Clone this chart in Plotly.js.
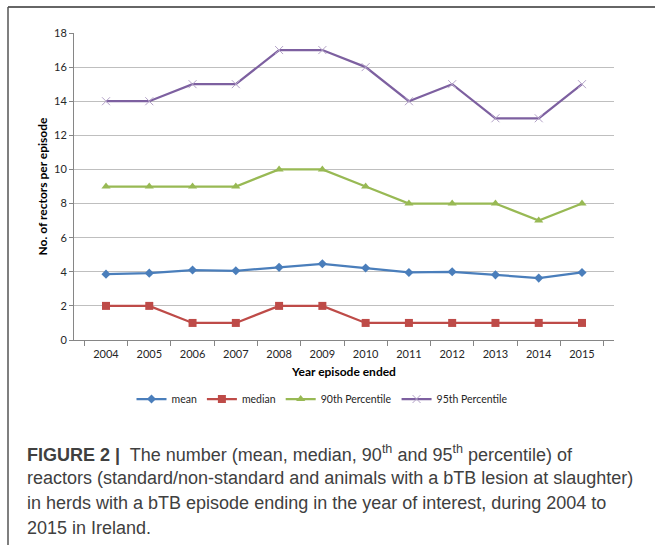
<!DOCTYPE html>
<html>
<head>
<meta charset="utf-8">
<script src="https://cdn.plot.ly/plotly-3.0.1.min.js"></script>
<style>html,body{margin:0;padding:0;background:#fff;}#chart{width:655px;height:548px;}</style>
</head>
<body>
<div id="chart"></div>
<script>
var years = ["2004","2005","2006","2007","2008","2009","2010","2011","2012","2013","2014","2015"];
var meanVals = [3.86, 3.92, 4.10, 4.06, 4.26, 4.47, 4.22, 3.96, 4.00, 3.82, 3.63, 3.96];
var medianVals = [2, 2, 1, 1, 2, 2, 1, 1, 1, 1, 1, 1];
var p90Vals = [9, 9, 9, 9, 10, 10, 9, 8, 8, 8, 7, 8];
var p95Vals = [14, 14, 15, 15, 17, 17, 16, 14, 15, 13, 13, 15];
var seriesNames = ["mean", "median", "90th Percentile", "95th Percentile"];
var captionLines = [
  "<b>FIGURE 2 |</b>  The number (mean, median, 90<sup>th</sup> and 95<sup>th</sup> percentile) of",
  "reactors (standard/non-standard and animals with a bTB lesion at slaughter)",
  "in herds with a bTB episode ending in the year of interest, during 2004 to",
  "2015 in Ireland."
];

var W = 655, H = 548;
var L = 74, R = 614, T = 33, B = 340;
function px(x){ return (x - L) / (R - L); }
function py(y){ return (B - y) / (B - T); }

var traces = [
  {x: years, y: meanVals, name: seriesNames[0], mode: "lines+markers",
   line: {color: "#4A7EBB", width: 2.25}, marker: {symbol: "diamond", size: 7, color: "#4A7EBB"}},
  {x: years, y: medianVals, name: seriesNames[1], mode: "lines+markers",
   line: {color: "#BE4B48", width: 2.25}, marker: {symbol: "square", size: 8, color: "#BE4B48"}},
  {x: years, y: p90Vals, name: seriesNames[2], mode: "lines+markers",
   line: {color: "#98B954", width: 2.25}, marker: {symbol: "triangle-up", size: 8, color: "#98B954"}},
  {x: years, y: p95Vals, name: seriesNames[3], mode: "lines+markers",
   line: {color: "#7D60A0", width: 2.25}, marker: {symbol: "x-thin-open", size: 8, color: "#B3A2C7", line: {color: "#B3A2C7", width: 1}}}
];

var capY = [453, 478, 503, 528];
var annotations = captionLines.map(function(t, i){
  return {text: t, xref: "paper", yref: "paper", x: px(25), y: py(capY[i]),
    xanchor: "left", yanchor: "middle", showarrow: false, align: "left",
    font: {family: "Liberation Sans, Arial, sans-serif", size: 18, color: "#404040"}};
});

var layout = {
  width: W, height: H,
  margin: {l: L, r: W - R, t: T, b: H - B, pad: 0},
  paper_bgcolor: "#ffffff", plot_bgcolor: "#ffffff",
  font: {family: "Liberation Sans Narrow, Lato, Open Sans, sans-serif", size: 11, color: "#262626"},
  showlegend: true,
  legend: {orientation: "h", x: px(322), xanchor: "center", y: py(399), yanchor: "middle",
           font: {size: 10.5, color: "#262626"}, itemwidth: 30, tracegroupgap: 0},
  xaxis: {type: "category", showgrid: false, showline: true, linecolor: "#868686", linewidth: 1,
          ticks: "outside", ticklen: 5, tickcolor: "#868686", tickson: "boundaries",
          ticklabelstandoff: 4, tickfont: {size: 11, family: "Lato, sans-serif"}, fixedrange: true,
          title: {text: "<b>Year episode ended</b>", font: {size: 12, color: "#000", family: "Lato, sans-serif"}, standoff: 8}},
  yaxis: {range: [0, 18], dtick: 2, showgrid: true, gridcolor: "#BFBFBF", gridwidth: 1,
          showline: true, linecolor: "#868686", linewidth: 1, zeroline: false,
          ticks: "outside", ticklen: 4, tickcolor: "#868686", tickfont: {size: 11, family: "Lato, sans-serif"},
          title: {text: "<b>No. of rectors per episode</b>", font: {size: 12, color: "#000", family: "Lato, sans-serif"}, standoff: 3}},
  shapes: [
    {type: "line", xref: "paper", yref: "paper", x0: px(8), x1: px(655), y0: py(7), y1: py(7),
     line: {color: "#333333", width: 1.5}},
    {type: "line", xref: "paper", yref: "paper", x0: px(8), x1: px(8), y0: py(7), y1: py(545),
     line: {color: "#555555", width: 1.5}}
  ],
  annotations: annotations
};

Plotly.newPlot("chart", traces, layout, {displayModeBar: false, staticPlot: true});
</script>
</body>
</html>
